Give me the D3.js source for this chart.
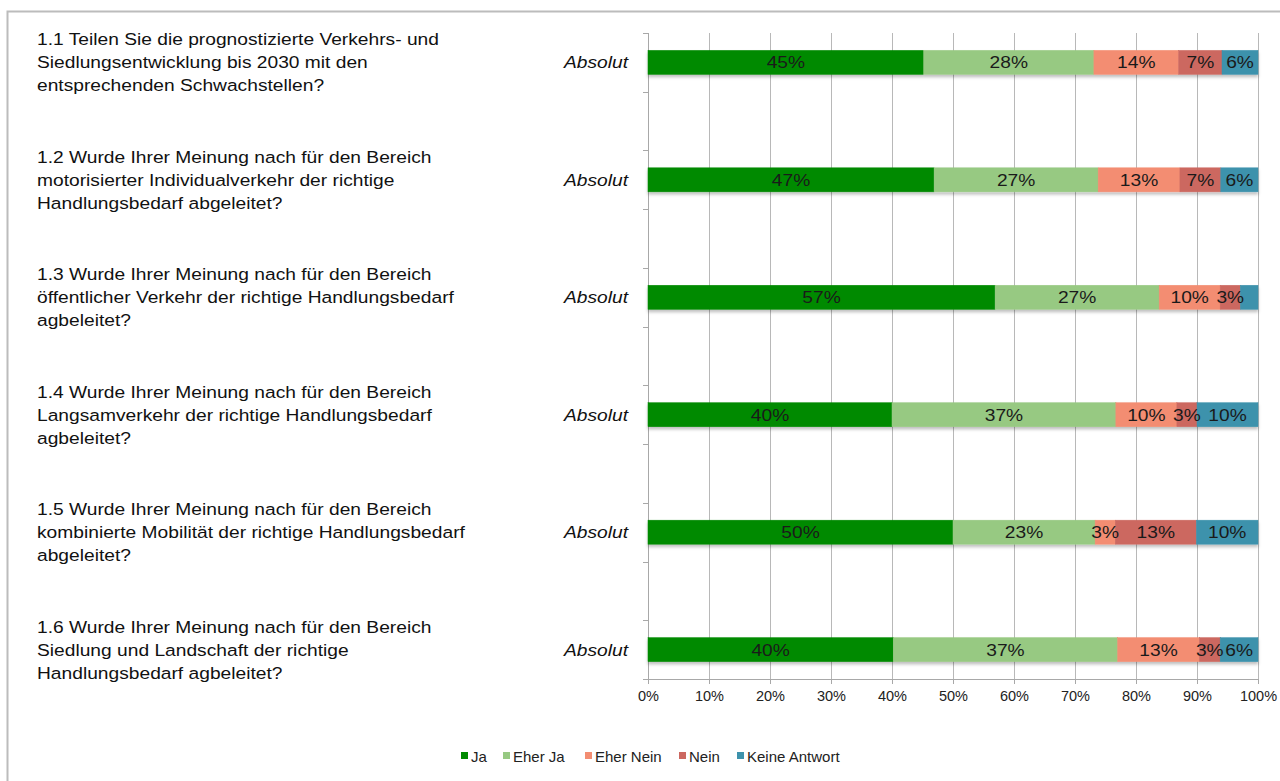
<!DOCTYPE html>
<html>
<head>
    <title>Umfrage Handlungsbedarf</title>
    <script src="https://cdnjs.cloudflare.com/ajax/libs/d3/7.8.5/d3.min.js"></script>
    <style>
        body { margin: 0; background: #fff; }
        text { font-family: "Liberation Sans", Arial, Helvetica, sans-serif; }
    </style>
</head>
<body>
    <div id="vis"></div>

    <script>
        // questions, one per bar (wrapped as in the original)
        var questions = [
            ["1.1 Teilen Sie die prognostizierte Verkehrs- und", "Siedlungsentwicklung bis 2030 mit den", "entsprechenden Schwachstellen?"],
            ["1.2 Wurde Ihrer Meinung nach für den Bereich", "motorisierter Individualverkehr der richtige", "Handlungsbedarf abgeleitet?"],
            ["1.3 Wurde Ihrer Meinung nach für den Bereich", "öffentlicher Verkehr der richtige Handlungsbedarf", "agbeleitet?"],
            ["1.4 Wurde Ihrer Meinung nach für den Bereich", "Langsamverkehr der richtige Handlungsbedarf", "agbeleitet?"],
            ["1.5 Wurde Ihrer Meinung nach für den Bereich", "kombinierte Mobilität der richtige Handlungsbedarf", "abgeleitet?"],
            ["1.6 Wurde Ihrer Meinung nach für den Bereich", "Siedlung und Landschaft der richtige", "Handlungsbedarf agbeleitet?"]
        ];
        var rowLabel = "Absolut";

        var answers = ["Ja", "Eher Ja", "Eher Nein", "Nein", "Keine Antwort"];
        var colors = ["#008a00", "#97c982", "#f38d72", "#cc6860", "#3d92ac"];

        // share in % per question, one array per answer
        var ja         = [45.2, 46.9, 56.9, 40.0, 50.0, 40.2];
        var eherJa     = [27.9, 26.9, 26.9, 36.7, 23.3, 36.8];
        var eherNein   = [13.9, 13.4, 10.0, 10.0,  3.3, 13.4];
        var nein       = [ 7.1,  6.7,  3.3,  3.3, 13.3,  3.4];
        var keineAntw  = [ 5.9,  6.1,  2.9, 10.0, 10.1,  6.2];
        var series = [ja, eherJa, eherNein, nein, keineAntw];

        // labels Excel left out (question index, answer index)
        var hiddenLabels = [[2, 4]];

        var xTicks = [0, 10, 20, 30, 40, 50, 60, 70, 80, 90, 100];

        var W = 1280, H = 781;
        var stretch = 1.13; // the original text is a bit wider than Arial
        var svg = d3.select("#vis").append("svg")
            .attr("width", W)
            .attr("height", H);

        var defs = svg.append("defs");
        defs.append("filter").attr("id", "shadow")
            .attr("x", "-5%").attr("y", "-30%").attr("width", "110%").attr("height", "180%")
            .append("feDropShadow")
            .attr("dx", 0).attr("dy", 2.5).attr("stdDeviation", 1.5)
            .attr("flood-color", "#000").attr("flood-opacity", 0.25);

        // outer frame
        svg.append("rect")
            .attr("x", 7.5).attr("y", 11.5)
            .attr("width", W + 20).attr("height", H + 20)
            .style("fill", "none").style("stroke", "#bcbcbc").style("stroke-width", 2);

        // 11 slots: bar, gap, bar, gap ...
        var slots = d3.range(11);
        var x = d3.scaleLinear().domain([0, 100]).range([648, 1258]);
        var y = d3.scaleBand().domain(slots).range([33, 679]);
        var barH = 24;
        function barY(i) { return y(i * 2) + y.bandwidth() / 2; }

        // gridlines
        svg.append("g").selectAll("line")
            .data(xTicks.slice(1))
            .enter().append("line")
            .attr("x1", function(d) { return Math.round(x(d)) + 0.5; })
            .attr("x2", function(d) { return Math.round(x(d)) + 0.5; })
            .attr("y1", 33).attr("y2", 679)
            .style("stroke", "#b8b8b8").style("stroke-width", 1);

        // left axis with ticks between slots
        var yAxis = svg.append("g");
        yAxis.append("line")
            .attr("x1", 648.5).attr("x2", 648.5).attr("y1", 33).attr("y2", 679)
            .style("stroke", "#a8a8a8");
        yAxis.selectAll("line.tk")
            .data(d3.range(12))
            .enter().append("line").attr("class", "tk")
            .attr("x1", 643).attr("x2", 648)
            .attr("y1", function(d) { return Math.round(33 + d * y.step()) + 0.5; })
            .attr("y2", function(d) { return Math.round(33 + d * y.step()) + 0.5; })
            .style("stroke", "#a8a8a8");

        // bottom axis
        var xAxis = svg.append("g").attr("transform", "translate(0,679)")
            .call(d3.axisBottom(x).tickValues(xTicks).tickSize(5).tickPadding(7)
                .tickFormat(function(d) { return d + "%"; }));
        xAxis.select(".domain").style("stroke", "#a8a8a8");
        xAxis.selectAll(".tick line").style("stroke", "#a8a8a8");
        xAxis.selectAll("text")
            .style("font-family", '"Liberation Sans", Arial, sans-serif')
            .style("font-size", "14.5px").style("fill", "#222");

        // stacked bars
        var rows = questions.map(function(q, i) {
            var acc = 0;
            return series.map(function(s, k) {
                var seg = { q: i, k: k, v: s[i], x0: acc, x1: acc + s[i] };
                acc += s[i];
                return seg;
            });
        });

        var barG = svg.append("g");
        rows.forEach(function(segs, i) {
            var g = barG.append("g").attr("filter", "url(#shadow)");
            g.selectAll("rect")
                .data(segs)
                .enter().append("rect")
                .attr("x", function(d) { return x(d.x0); })
                .attr("width", function(d) { return x(d.x1) - x(d.x0); })
                .attr("y", barY(i) - barH / 2)
                .attr("height", barH)
                .style("fill", function(d) { return colors[d.k]; })
                .style("stroke", function(d) { return colors[d.k]; })
                .style("stroke-width", 0.5);
        });

        // value labels
        rows.forEach(function(segs, i) {
            barG.append("g").selectAll("text")
                .data(segs.filter(function(d) {
                    return !hiddenLabels.some(function(h) { return h[0] === d.q && h[1] === d.k; });
                }))
                .enter().append("text")
                .attr("transform", function(d) {
                    return "translate(" + x((d.x0 + d.x1) / 2) + "," + (barY(i) + 6) + ") scale(" + stretch + ",1)";
                })
                .attr("text-anchor", "middle")
                .style("font-size", "17px")
                .style("fill", "#1a1a1a")
                .text(function(d) { return Math.round(d.v) + "%"; });
        });

        // "Absolut" category labels
        svg.append("g").selectAll("text")
            .data(questions)
            .enter().append("text")
            .attr("transform", function(d, i) {
                return "translate(628," + (barY(i) + 6) + ") scale(" + stretch + ",1)";
            })
            .attr("text-anchor", "end")
            .style("font-size", "17px").style("font-style", "italic")
            .style("fill", "#111")
            .text(rowLabel);

        // question texts on the left
        var qG = svg.append("g").attr("transform", "translate(37,0) scale(" + stretch + ",1)");
        questions.forEach(function(lines, i) {
            var t = qG.append("text")
                .attr("x", 0)
                .attr("y", barY(i) - 23 + 6)
                .style("font-size", "17px").style("fill", "#111");
            lines.forEach(function(l, j) {
                t.append("tspan").attr("x", 0).attr("dy", j === 0 ? 0 : 23).text(l);
            });
        });

        // legend
        var legX = [461, 503, 585, 679, 737];
        var leg = svg.append("g").selectAll("g")
            .data(answers)
            .enter().append("g")
            .attr("transform", function(d, i) { return "translate(" + legX[i] + ",757)"; });
        leg.append("rect")
            .attr("x", 0).attr("y", -5).attr("width", 7).attr("height", 7)
            .style("fill", function(d, i) { return colors[i]; });
        leg.append("text")
            .attr("x", 10).attr("y", 5)
            .style("font-size", "15px").style("fill", "#222")
            .text(function(d) { return d; });
    </script>
</body>
</html>
